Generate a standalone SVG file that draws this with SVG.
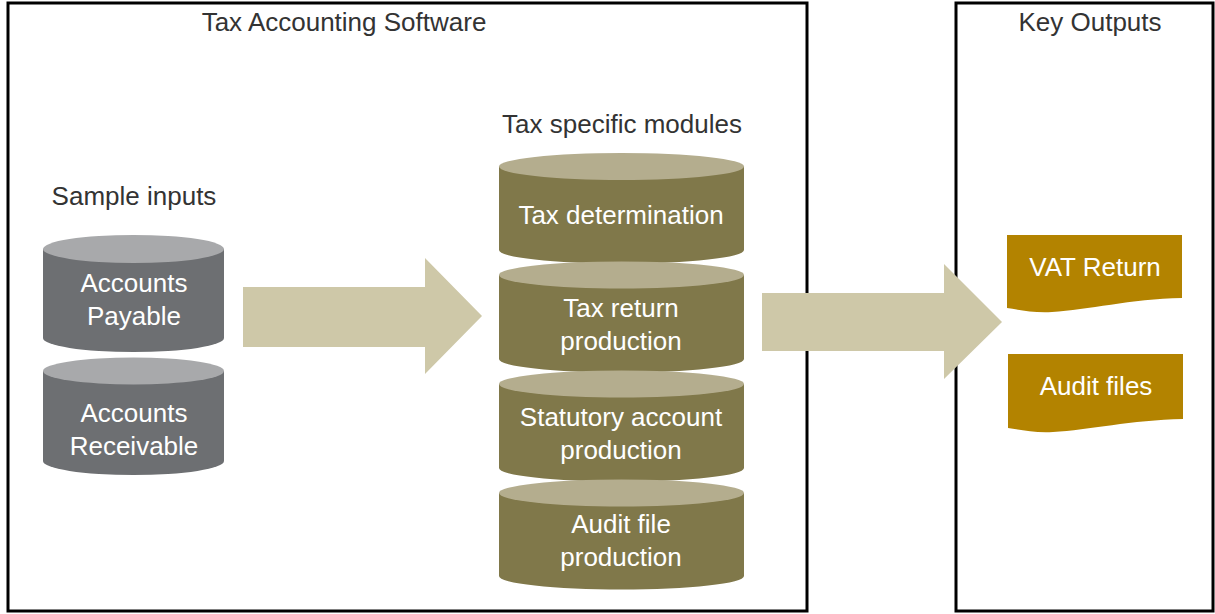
<svg xmlns="http://www.w3.org/2000/svg" width="1215" height="614" viewBox="0 0 1215 614">
<style>
.frame{fill:#fff;stroke:#000;stroke-width:3}
.title{font-family:"Liberation Sans",Arial,sans-serif;font-size:26px;fill:#333;text-anchor:middle}
.lbl{font-family:"Liberation Sans",Arial,sans-serif;font-size:26px;fill:#fff;text-anchor:middle}
.gbody{fill:#6d6f72}
.gtop{fill:#a8a9ab}
.obody{fill:#80784a}
.otop{fill:#b4ad8e}
.doc{fill:#b38300}
.arrow{fill:#cec8a8}
</style>
<g id="software-box">
<rect class="frame" x="8" y="3" width="799" height="608"/>
<text class="title" x="344" y="31">Tax Accounting Software</text>
</g>
<g id="outputs-box">
<rect class="frame" x="956" y="3" width="257" height="608"/>
<text class="title" x="1090" y="31">Key Outputs</text>
</g>
<g id="sample-inputs-label"><text class="title" x="134" y="205">Sample inputs</text></g>
<g id="modules-label"><text class="title" x="622" y="133">Tax specific modules</text></g>
<g id="accounts-payable">
<path class="gbody" d="M43,249 V338 A90.5,14 0 0 0 224,338 V249 Z"/>
<ellipse class="gtop" cx="133.5" cy="249" rx="90.5" ry="14"/>
<text class="lbl" x="134" y="292">Accounts</text>
<text class="lbl" x="134" y="325">Payable</text>
</g>
<g id="accounts-receivable">
<path class="gbody" d="M43,371 V461 A90.5,14 0 0 0 224,461 V371 Z"/>
<ellipse class="gtop" cx="133.5" cy="371" rx="90.5" ry="13.5"/>
<text class="lbl" x="134" y="422">Accounts</text>
<text class="lbl" x="134" y="455">Receivable</text>
</g>
<g id="tax-determination">
<path class="obody" d="M499,166.5 V250 A122.5,13.5 0 0 0 744,250 V166.5 Z"/>
<ellipse class="otop" cx="621.5" cy="166.5" rx="122.5" ry="13.5"/>
<text class="lbl" x="621" y="224">Tax determination</text>
</g>
<g id="tax-return-production">
<path class="obody" d="M499,275 V359 A122.5,13.5 0 0 0 744,359 V275 Z"/>
<ellipse class="otop" cx="621.5" cy="275" rx="122.5" ry="13.5"/>
<text class="lbl" x="621" y="317">Tax return</text>
<text class="lbl" x="621" y="350">production</text>
</g>
<g id="statutory-account-production">
<path class="obody" d="M499,384 V468 A122.5,13.5 0 0 0 744,468 V384 Z"/>
<ellipse class="otop" cx="621.5" cy="384" rx="122.5" ry="13.5"/>
<text class="lbl" x="621" y="426">Statutory account</text>
<text class="lbl" x="621" y="459">production</text>
</g>
<g id="audit-file-production">
<path class="obody" d="M499,493 V576 A122.5,13.5 0 0 0 744,576 V493 Z"/>
<ellipse class="otop" cx="621.5" cy="493" rx="122.5" ry="13.5"/>
<text class="lbl" x="621" y="533">Audit file</text>
<text class="lbl" x="621" y="566">production</text>
</g>
<g id="connectors">
<polygon class="arrow" points="243,287 425,287 425,258 482,316 425,374 425,347 243,347"/>
<polygon class="arrow" points="762,293 944,293 944,264 1002,322 944,379 944,351 762,351"/>
</g>
<g id="vat-return">
<path class="doc" d="M1007,235 H1182 V298 C1130,299 1088,310 1052,312 C1034,313 1020,310 1007,308 Z"/>
<text class="lbl" x="1095" y="276">VAT Return</text>
</g>
<g id="audit-files">
<path class="doc" d="M1008,354 H1183 V419 C1131,420 1089,430 1053,432 C1035,433 1021,430 1008,428 Z"/>
<text class="lbl" x="1096" y="395">Audit files</text>
</g>
</svg>
